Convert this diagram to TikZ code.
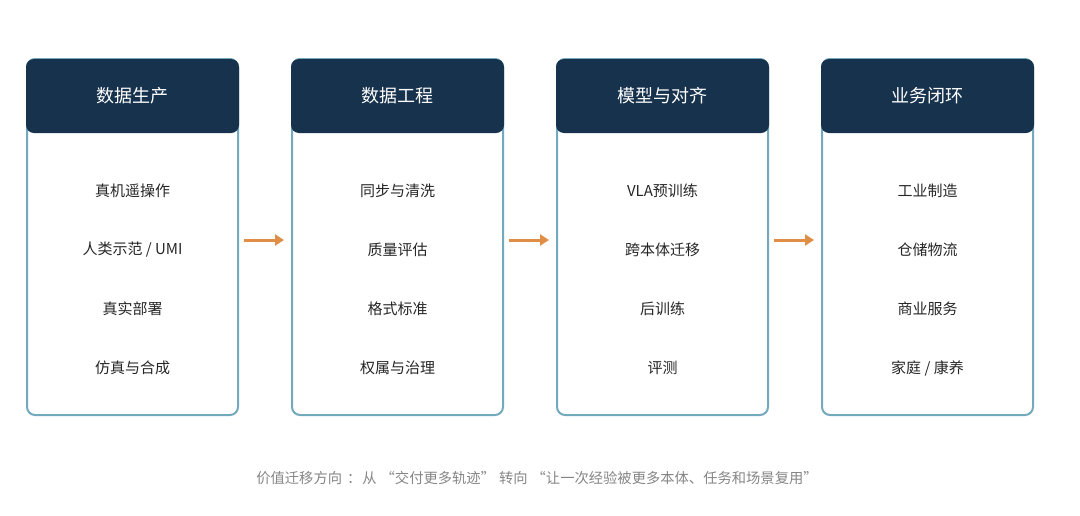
\documentclass[tikz,border=0pt]{standalone}
\usepackage{fontspec}
\setmainfont{Noto Sans CJK SC}
\usetikzlibrary{arrows.meta}
\definecolor{navy}{HTML}{17324D}
\definecolor{teal}{HTML}{72A9BC}
\definecolor{flow}{HTML}{E08D45}
\definecolor{note}{HTML}{858585}
\newcommand{\gap}{\hspace{4pt}}
\begin{document}
\begin{tikzpicture}[x = 1pt, y = -1pt,
        every node/.style={inner sep=0pt, shape=rectangle},
        every path/.style={thick}
]
\tikzstyle{stage}= [draw=teal, line width=2pt, rounded corners=8pt, minimum width=211pt, minimum height=356pt]
\tikzstyle{head}= [fill=navy, rounded corners=8pt, minimum width=213pt, minimum height=74pt, text=white, font=\fontsize{18}{21}\selectfont]
\tikzstyle{item}= [font=\fontsize{15}{18}\selectfont, text=black!85]
\tikzstyle{flowarrow}= [-{Triangle[length=9pt, width=11pt]}, draw=flow, line width=3pt, shorten <=5pt, shorten >=7pt]
    \useasboundingbox (0,0) rectangle (1080,515);
    % stages
    \node[stage] (s1) at (132.5,237) {};
    \node[stage] (s2) at (397.5,237) {};
    \node[stage] (s3) at (662.5,237) {};
    \node[stage] (s4) at (927.5,237) {};
    \node[head] (h1) at (132.5,96) {数据生产};
    \node[head] (h2) at (397.5,96) {数据工程};
    \node[head] (h3) at (662.5,96) {模型与对齐};
    \node[head] (h4) at (927.5,96) {业务闭环};
    % items
    \node[item] (a1) at (132.5,191) {真机遥操作};
    \node[item] (a2) at (132.5,250) {人类示范 / UMI};
    \node[item] (a3) at (132.5,309) {真实部署};
    \node[item] (a4) at (132.5,368) {仿真与合成};
    \node[item] (b1) at (397.5,191) {同步与清洗};
    \node[item] (b2) at (397.5,250) {质量评估};
    \node[item] (b3) at (397.5,309) {格式标准};
    \node[item] (b4) at (397.5,368) {权属与治理};
    \node[item] (c1) at (662.5,191) {VLA预训练};
    \node[item] (c2) at (662.5,250) {跨本体迁移};
    \node[item] (c3) at (662.5,309) {后训练};
    \node[item] (c4) at (662.5,368) {评测};
    \node[item] (d1) at (927.5,191) {工业制造};
    \node[item] (d2) at (927.5,250) {仓储物流};
    \node[item] (d3) at (927.5,309) {商业服务};
    \node[item] (d4) at (927.5,368) {家庭 / 康养};
    % flow
    \draw[flowarrow] (s1.east |- 0,240) -- (s2.west |- 0,240);
    \draw[flowarrow] (s2.east |- 0,240) -- (s3.west |- 0,240);
    \draw[flowarrow] (s3.east |- 0,240) -- (s4.west |- 0,240);
    \node[text=note, font=\fontsize{14.3}{17}\selectfont] (caption) at (537,478) {价值迁移方向\hspace{5pt}：\hspace{1pt}从\gap{}“交付更多轨迹”\gap{}转向\gap{}“让一次经验被更多本体、任务和场景复用”};
\end{tikzpicture}
\end{document}
